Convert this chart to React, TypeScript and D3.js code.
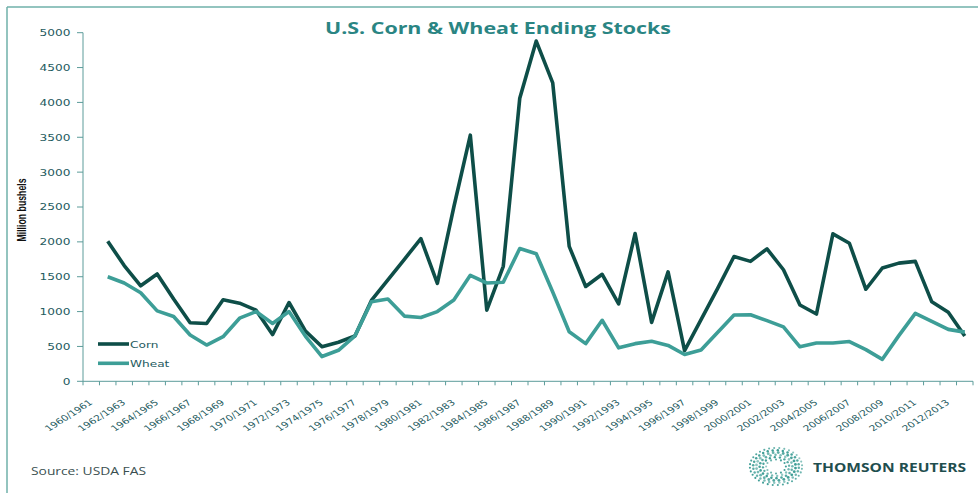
import React from "react";
import * as d3 from "d3";

const categories = [
  "1960/1961","1961/1962","1962/1963","1963/1964","1964/1965","1965/1966","1966/1967","1967/1968","1968/1969","1969/1970",
  "1970/1971","1971/1972","1972/1973","1973/1974","1974/1975","1975/1976","1976/1977","1977/1978","1978/1979","1979/1980",
  "1980/1981","1981/1982","1982/1983","1983/1984","1984/1985","1985/1986","1986/1987","1987/1988","1988/1989","1989/1990",
  "1990/1991","1991/1992","1992/1993","1993/1994","1994/1995","1995/1996","1996/1997","1997/1998","1998/1999","1999/2000",
  "2000/2001","2001/2002","2002/2003","2003/2004","2004/2005","2005/2006","2006/2007","2007/2008","2008/2009","2009/2010",
  "2010/2011","2011/2012","2012/2013","2013/2014",
];

const cornStocks: (number | null)[] = [
  null, 2010, 1660, 1370, 1540, 1180, 840, 830, 1170, 1120,
  1020, 670, 1130, 720, 495, 560, 650, 1160, 1455, 1750,
  2045, 1405, 2500, 3530, 1020, 1650, 4060, 4880, 4280, 1935,
  1360, 1535, 1110, 2120, 845, 1570, 440, 885, 1330, 1790,
  1720, 1900, 1600, 1095, 965, 2115, 1980, 1320, 1625, 1695,
  1720, 1140, 990, 650,
];

const wheatStocks: (number | null)[] = [
  null, 1500, 1410, 1270, 1010, 930, 665, 520, 640, 905,
  1000, 830, 1000, 645, 355, 445, 652, 1140, 1180, 935,
  915, 1000, 1165, 1520, 1410, 1420, 1905, 1830, 1280, 710,
  540, 875, 480, 540, 575, 515, 385, 450, 700, 950,
  955, 870, 780, 495, 550, 550, 570, 455, 315, 655,
  975, 860, 745, 705,
];

const yTicks = [0, 500, 1000, 1500, 2000, 2500, 3000, 3500, 4000, 4500, 5000];
const xTickLabels = categories.filter((_, i) => i % 2 === 0 && i <= 52);

const seriesNames = ["Corn", "Wheat"];
const CORN = "#0e4e48";
const WHEAT = "#3d9e97";
const AXIS = "#5c9c9a";
const LABEL = "#245a5e";
const SX = 1.32;

const W = 978;
const H = 493;

export default function App() {
  const x = d3.scaleBand<string>().domain(categories).range([83, 973]).paddingInner(0).paddingOuter(0);
  const y = d3.scaleLinear().domain([0, 5000]).range([381.3, 32.7]);
  const cx = (c: string) => (x(c) as number) + x.bandwidth() / 2;

  const mk = (vals: (number | null)[]) =>
    d3
      .line<number>()
      .defined((i) => vals[i] != null)
      .x((i) => cx(categories[i]))
      .y((i) => y(vals[i] as number))(d3.range(categories.length)) || "";

  const boundaries = d3.range(categories.length + 1).map((i) => 83 + i * x.bandwidth());

  // logo dots
  const logoCx = 776;
  const logoCy = 466.5;
  const rings = d3.range(6).map((k) => ({
    f: 0.38 + k * 0.125,
    n: 12 + k * 4,
    r: 1.05 + (k < 4 ? k * 0.12 : (5 - k) * 0.2),
  }));
  const dots: { x: number; y: number; r: number; o: number }[] = [];
  rings.forEach((rg, k) => {
    d3.range(rg.n).forEach((j) => {
      const a = (j / rg.n) * Math.PI * 2 + k * 0.3;
      dots.push({
        x: logoCx + Math.cos(a) * 26 * rg.f,
        y: logoCy + Math.sin(a) * 18.5 * rg.f,
        r: rg.r,
        o: 0.55 + 0.45 * Math.abs(Math.cos(a * 0.5 + k)),
      });
    });
  });

  return (
    <svg
      width={W}
      height={H}
      viewBox={`0 0 ${W} ${H}`}
      style={{ position: "absolute", left: 0, top: 0, background: "#fff" }}
    >
      {/* frame */}
      <line x1={7} y1={7} x2={W} y2={7} stroke="#6fb0aa" strokeWidth={1.5} />
      <line x1={7} y1={7} x2={7} y2={H} stroke="#6fb0aa" strokeWidth={1.5} />

      {/* title */}
      <text
        x={498}
        y={33.5}
        textAnchor="middle"
        fontFamily="'Open Sans', sans-serif"
        fontWeight={700}
        fontSize={16.5}
        fill="#2a8583"
        textLength={346}
        lengthAdjust="spacingAndGlyphs"
      >
        U.S. Corn &amp; Wheat Ending Stocks
      </text>

      {/* y axis */}
      <line x1={83} y1={y(5000)} x2={83} y2={y(0)} stroke={AXIS} strokeWidth={1} />
      {yTicks.map((t) => (
        <g key={t}>
          <line x1={77} x2={83} y1={y(t)} y2={y(t)} stroke={AXIS} strokeWidth={1} />
          <text
            transform={`translate(70.5,${y(t) + 3.4}) scale(${SX},1)`}
            textAnchor="end"
            fontFamily="'DejaVu Sans', sans-serif"
            fontSize={9.2}
            fill={LABEL}
          >
            {t}
          </text>
        </g>
      ))}
      <text
        transform={`translate(25.5,210) scale(1.35,1) rotate(-90)`}
        textAnchor="middle"
        fontFamily="'Liberation Sans Narrow', 'Liberation Sans', sans-serif"
        fontWeight={700}
        fontSize={9.5}
        fill="#111"
        textLength={63}
        lengthAdjust="spacingAndGlyphs"
      >
        Million bushels
      </text>

      {/* x axis */}
      <line x1={83} y1={y(0)} x2={973} y2={y(0)} stroke={AXIS} strokeWidth={1} />
      {boundaries.map((b, i) => (
        <line key={i} x1={b} x2={b} y1={y(0)} y2={y(0) + 4} stroke={AXIS} strokeWidth={1} />
      ))}
      {xTickLabels.map((c) => (
        <text
          key={c}
          transform={`translate(${cx(c) + 2},403.5) scale(${SX},1) rotate(-40)`}
          textAnchor="end"
          fontFamily="'DejaVu Sans', sans-serif"
          fontSize={8.1}
          fill={LABEL}
        >
          {c}
        </text>
      ))}

      {/* series */}
      <path d={mk(cornStocks)} fill="none" stroke={CORN} strokeWidth={3.6} strokeLinejoin="round" />
      <path d={mk(wheatStocks)} fill="none" stroke={WHEAT} strokeWidth={3.6} strokeLinejoin="round" />

      {/* legend */}
      {seriesNames.map((s, i) => (
        <g key={s}>
          <line x1={98} x2={129} y1={344 + i * 19.3} y2={344 + i * 19.3} stroke={i === 0 ? CORN : WHEAT} strokeWidth={3.6} />
          <text
            transform={`translate(130,${347.5 + i * 19.3}) scale(${SX},1)`}
            fontFamily="'DejaVu Sans', sans-serif"
            fontSize={9.2}
            fill={LABEL}
          >
            {s}
          </text>
        </g>
      ))}

      {/* footer */}
      <text
        x={31}
        y={475}
        fontFamily="'Open Sans', sans-serif"
        fontSize={11.5}
        fill="#3a4f50"
        textLength={115}
        lengthAdjust="spacingAndGlyphs"
      >
        Source: USDA FAS
      </text>
      {dots.map((d, i) => (
        <circle key={i} cx={d.x} cy={d.y} r={d.r} fill="#3f9e96" opacity={d.o} />
      ))}
      <text
        x={813}
        y={472}
        fontFamily="'Open Sans', sans-serif"
        fontWeight={700}
        fontSize={12.5}
        fill="#1f4e4e"
        textLength={153}
        lengthAdjust="spacingAndGlyphs"
      >
        THOMSON REUTERS
      </text>
    </svg>
  );
}
